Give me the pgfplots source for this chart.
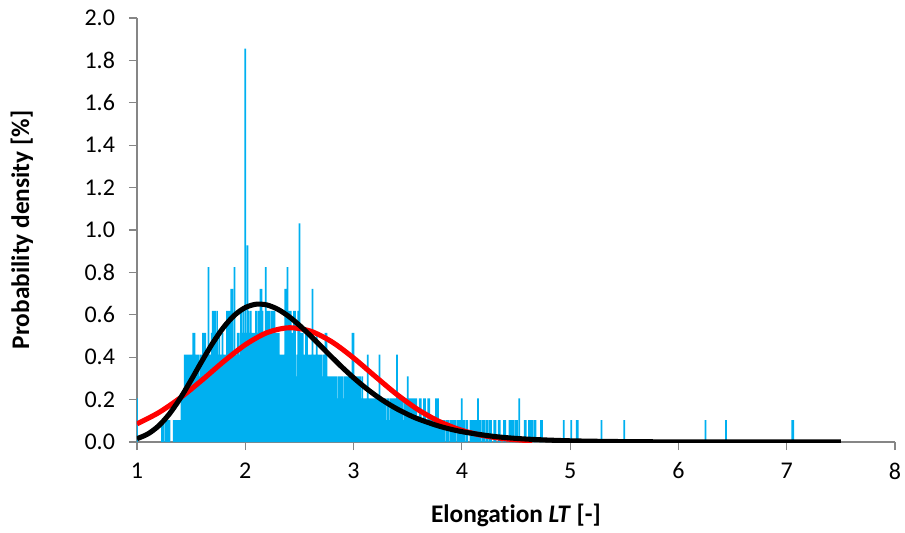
\documentclass[border=0pt]{standalone}
\usepackage{fontspec}
\setmainfont{Carlito}[Ligatures={NoCommon}, RawFeature={-clig;-calt;-dlig}]
\usepackage{pgfplots}
\usepackage{pgfplotstable}
\pgfplotsset{compat=1.18}
\definecolor{barblue}{HTML}{00B0F0}
\definecolor{axgray}{HTML}{868686}

% histogram, bins of 0.01
\pgfplotstableread{
x y
1.00 0.206
1.23 0.103
1.24 0.103
1.26 0.103
1.27 0.103
1.28 0.103
1.29 0.103
1.30 0.103
1.34 0.103
1.35 0.103
1.36 0.103
1.37 0.103
1.38 0.103
1.39 0.103
1.40 0.103
1.41 0.206
1.42 0.103
1.43 0.206
1.44 0.412
1.45 0.412
1.46 0.412
1.47 0.412
1.48 0.309
1.49 0.412
1.50 0.412
1.51 0.412
1.52 0.515
1.53 0.515
1.54 0.412
1.55 0.412
1.56 0.412
1.57 0.412
1.58 0.309
1.59 0.412
1.60 0.412
1.61 0.515
1.62 0.515
1.63 0.515
1.64 0.412
1.65 0.412
1.66 0.825
1.67 0.412
1.68 0.412
1.69 0.515
1.70 0.619
1.71 0.619
1.72 0.619
1.73 0.515
1.74 0.619
1.75 0.412
1.76 0.515
1.77 0.412
1.78 0.412
1.79 0.515
1.80 0.412
1.81 0.412
1.82 0.412
1.83 0.619
1.84 0.619
1.85 0.619
1.86 0.619
1.87 0.722
1.88 0.722
1.89 0.412
1.90 0.825
1.91 0.412
1.92 0.412
1.93 0.515
1.94 0.515
1.95 0.412
1.96 0.619
1.97 0.515
1.98 0.619
1.99 0.515
2.00 1.856
2.01 0.515
2.02 0.928
2.03 0.619
2.04 0.515
2.05 0.619
2.06 0.515
2.07 0.515
2.08 0.515
2.09 0.412
2.10 0.619
2.11 0.515
2.12 0.619
2.13 0.619
2.14 0.722
2.15 0.722
2.16 0.619
2.17 0.515
2.18 0.515
2.19 0.825
2.20 0.619
2.21 0.619
2.22 0.619
2.23 0.515
2.24 0.619
2.25 0.619
2.26 0.619
2.27 0.619
2.28 0.515
2.29 0.515
2.30 0.515
2.31 0.515
2.32 0.412
2.33 0.412
2.34 0.412
2.35 0.412
2.36 0.412
2.37 0.722
2.38 0.722
2.39 0.825
2.40 0.619
2.41 0.619
2.42 0.619
2.43 0.515
2.44 0.515
2.45 0.619
2.46 0.619
2.47 0.309
2.48 0.412
2.49 0.619
2.50 1.031
2.51 0.515
2.52 0.515
2.53 0.515
2.54 0.412
2.55 0.412
2.56 0.515
2.57 0.515
2.58 0.412
2.59 0.412
2.60 0.412
2.61 0.412
2.62 0.722
2.63 0.412
2.64 0.412
2.65 0.412
2.66 0.515
2.67 0.412
2.68 0.412
2.69 0.412
2.70 0.412
2.71 0.309
2.72 0.412
2.73 0.412
2.74 0.515
2.75 0.515
2.76 0.309
2.77 0.309
2.78 0.309
2.79 0.309
2.80 0.309
2.81 0.309
2.82 0.309
2.83 0.309
2.84 0.309
2.85 0.206
2.86 0.309
2.87 0.309
2.88 0.309
2.89 0.309
2.90 0.309
2.91 0.206
2.92 0.309
2.93 0.309
2.94 0.309
2.95 0.309
2.96 0.103
2.97 0.309
2.98 0.309
2.99 0.515
3.00 0.515
3.01 0.309
3.02 0.309
3.03 0.309
3.04 0.309
3.05 0.309
3.06 0.309
3.07 0.206
3.08 0.309
3.09 0.206
3.10 0.206
3.11 0.206
3.12 0.206
3.13 0.412
3.14 0.206
3.15 0.206
3.16 0.206
3.17 0.206
3.18 0.206
3.19 0.206
3.20 0.206
3.21 0.206
3.22 0.206
3.23 0.206
3.24 0.412
3.25 0.206
3.26 0.206
3.27 0.206
3.28 0.206
3.29 0.206
3.30 0.103
3.31 0.206
3.32 0.206
3.33 0.103
3.34 0.206
3.35 0.206
3.36 0.206
3.37 0.206
3.38 0.206
3.39 0.206
3.40 0.412
3.41 0.206
3.42 0.206
3.43 0.206
3.44 0.206
3.45 0.206
3.46 0.103
3.47 0.206
3.48 0.206
3.49 0.206
3.50 0.309
3.51 0.206
3.52 0.206
3.53 0.206
3.54 0.206
3.55 0.206
3.56 0.206
3.57 0.206
3.58 0.206
3.59 0.103
3.60 0.103
3.61 0.206
3.62 0.206
3.63 0.103
3.64 0.103
3.65 0.206
3.66 0.206
3.67 0.103
3.68 0.103
3.69 0.206
3.70 0.206
3.71 0.103
3.72 0.103
3.73 0.103
3.74 0.103
3.75 0.103
3.76 0.206
3.77 0.206
3.78 0.206
3.79 0.103
3.80 0.103
3.81 0.103
3.82 0.103
3.83 0.103
3.84 0.103
3.86 0.103
3.87 0.103
3.88 0.103
3.90 0.103
3.91 0.103
3.92 0.103
3.93 0.103
3.94 0.103
3.96 0.103
3.97 0.103
3.98 0.103
3.99 0.103
4.00 0.206
4.01 0.103
4.02 0.103
4.04 0.103
4.05 0.103
4.08 0.103
4.09 0.103
4.10 0.103
4.11 0.103
4.12 0.103
4.13 0.103
4.14 0.103
4.15 0.206
4.16 0.103
4.17 0.103
4.19 0.103
4.20 0.103
4.21 0.103
4.23 0.103
4.24 0.103
4.26 0.103
4.27 0.103
4.30 0.103
4.31 0.103
4.34 0.103
4.35 0.103
4.39 0.103
4.40 0.103
4.44 0.103
4.45 0.103
4.46 0.103
4.47 0.103
4.48 0.103
4.50 0.103
4.51 0.103
4.53 0.206
4.58 0.103
4.59 0.103
4.62 0.103
4.63 0.103
4.64 0.103
4.65 0.103
4.67 0.103
4.68 0.103
4.73 0.103
4.74 0.103
4.94 0.103
5.01 0.103
5.06 0.103
5.07 0.103
5.29 0.103
5.50 0.103
6.25 0.103
6.44 0.103
7.05 0.103
7.06 0.103
}\histdata

\begin{document}
\begin{tikzpicture}
\begin{axis}[
  scale only axis,
  width=568.5pt,
  height=318pt,
  xmin=1, xmax=8,
  ymin=0, ymax=2,
  enlargelimits=false,
  axis lines=left,
  axis line style={-, draw=axgray, line width=0.9pt},
  xtick={1,2,...,8},
  ytick={0,0.2,...,2.0},
  tick align=outside,
  major tick length=6pt,
  tick style={draw=axgray, line width=0.9pt},
  minor tick num=0,
  /pgf/number format/assume math mode=true,
  tick label style={font=\fontsize{18}{21}\selectfont, text=black},
  xticklabel style={yshift=-6pt},
  yticklabel style={xshift=-7pt, /pgf/number format/fixed,
    /pgf/number format/fixed zerofill, /pgf/number format/precision=1},
  label style={font=\fontsize{19}{23}\selectfont\bfseries},
  xlabel={Elongation \textit{LT} [-]},
  ylabel={Probability density [\%]},
  xlabel style={at={(axis description cs:0.5,-0.172)}, anchor=center},
  ylabel style={at={(axis description cs:-0.152,0.5)}, anchor=center},
  clip=true,
]
\addplot[ybar, bar width=0.016, fill=barblue, draw=none] table[x=x, y=y] {\histdata};

% normal fit
\addplot[red, line width=3.8pt, smooth] coordinates {
  (1.0,0.0855) (1.2,0.1385) (1.4,0.2084) (1.6,0.2917) (1.8,0.3795)
  (2.0,0.4588) (2.2,0.5157) (2.4,0.5388) (2.6,0.5233) (2.8,0.4724)
  (3.0,0.3964) (3.2,0.3093) (3.4,0.2243) (3.6,0.1511) (3.8,0.0947)
  (4.0,0.0551) (4.2,0.0299) (4.4,0.0150) (4.6,0.0070) (4.65,0.0058)
};

% lognormal fit
\addplot[black, line width=3.8pt, smooth] coordinates {
  (1.0,0.0157) (1.1,0.0379) (1.2,0.0762) (1.3,0.1330) (1.4,0.2067)
  (1.5,0.2923) (1.6,0.3819) (1.7,0.4673) (1.8,0.5412) (1.9,0.5979)
  (2.0,0.6342) (2.1,0.6499) (2.2,0.6464) (2.3,0.6262) (2.4,0.5931)
  (2.5,0.5505) (2.6,0.5022) (2.7,0.4510) (2.8,0.3997) (2.9,0.3498)
  (3.0,0.3030) (3.1,0.2599) (3.2,0.2210) (3.3,0.1866) (3.4,0.1564)
  (3.5,0.1304) (3.6,0.1081) (3.8,0.0733) (4.0,0.0489) (4.3,0.0261)
  (4.6,0.0137) (5.0,0.0057) (5.5,0.0019) (6.0,0.0006) (6.5,0.0002)
  (7.0,0.0001) (7.5,0.0000)
};
\end{axis}
\pgfresetboundingbox
\path[use as bounding box] (-102.75pt,-67.5pt) rectangle (576pt,331.5pt);
\end{tikzpicture}
\end{document}
